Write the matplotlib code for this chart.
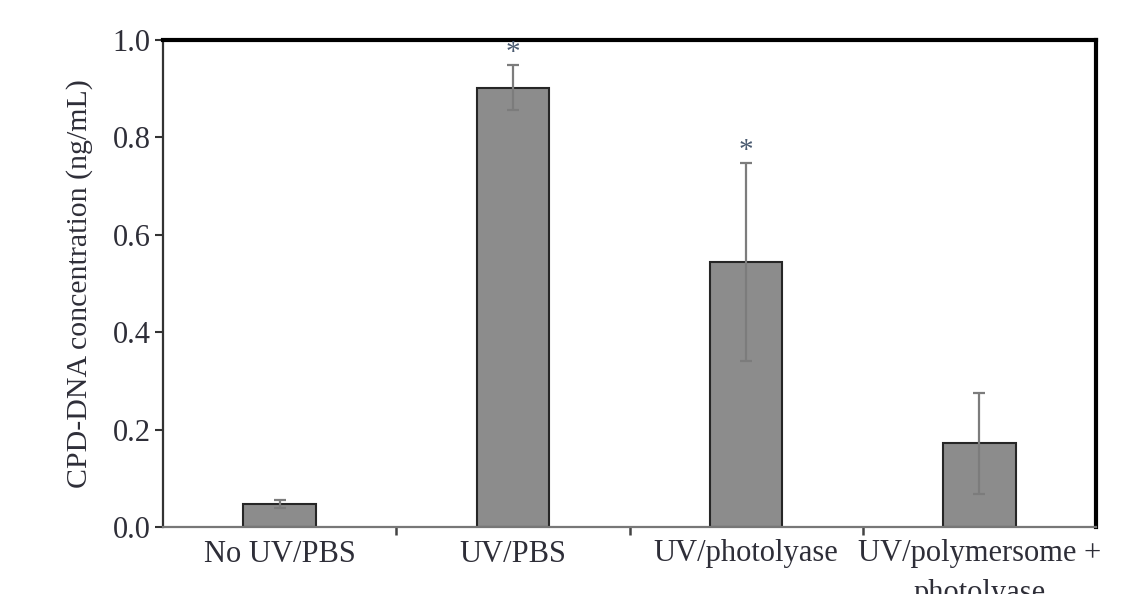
import matplotlib
matplotlib.use("Agg")
import matplotlib.pyplot as plt
import numpy as np

# data
groups = ["No UV/PBS", "UV/PBS", "UV/photolyase", "UV/polymersome +\nphotolyase"]
conc = [0.048, 0.902, 0.544, 0.172]
conc_err = [0.008, 0.046, 0.204, 0.104]
significant = [False, True, True, False]
yticks = [0.0, 0.2, 0.4, 0.6, 0.8, 1.0]

plt.rcParams["font.family"] = ["Liberation Serif", "DejaVu Serif"]
text_color = "#2e2e38"

fig = plt.figure(figsize=(11.27, 5.94), dpi=100)
ax = fig.add_axes([163 / 1127, 1 - 527 / 594, (1096 - 163) / 1127, (527 - 40) / 594])

x = np.arange(len(groups))
ax.bar(x, conc, width=0.31, color="#8c8c8c", edgecolor="#262626", linewidth=1.5, zorder=2)
ax.errorbar(x, conc, yerr=conc_err, fmt="none", ecolor="#7c7c7c", elinewidth=1.6,
            capsize=4, capthick=1.6, zorder=3)

# significance stars above the error bars
for xi, v, e, s in zip(x, conc, conc_err, significant):
    if s:
        ax.text(xi, v + e - 0.002, "*", ha="center", va="bottom", fontsize=21,
                color="#4a5a70")

ax.set_xlim(-0.5, len(groups) - 0.5)
ax.set_ylim(0, 1.0)
ax.set_yticks(yticks)
ax.set_yticklabels([f"{t:.1f}" for t in yticks])
ax.set_xticks(x)
ax.set_xticklabels(groups, linespacing=1.5)
ax.set_xticks(x[:-1] + 0.5, minor=True)

ax.tick_params(axis="y", which="major", direction="out", length=6, width=1.5,
               color="#333333", labelsize=22, labelcolor=text_color, pad=3)
ax.tick_params(axis="x", which="major", length=0, labelsize=22, labelcolor=text_color, pad=9)
ax.tick_params(axis="x", which="minor", direction="out", length=6, width=1.8, color="#444444")

ax.set_ylabel("CPD-DNA concentration (ng/mL)", fontsize=21.5, color=text_color, labelpad=14)

ax.spines["left"].set_color("#333333")
ax.spines["left"].set_linewidth(1.6)
ax.spines["bottom"].set_color("#777777")
ax.spines["bottom"].set_linewidth(1.6)
ax.spines["top"].set_color("black")
ax.spines["top"].set_linewidth(3)
ax.spines["right"].set_color("black")
ax.spines["right"].set_linewidth(3)

fig.savefig("out.png", dpi=100)
